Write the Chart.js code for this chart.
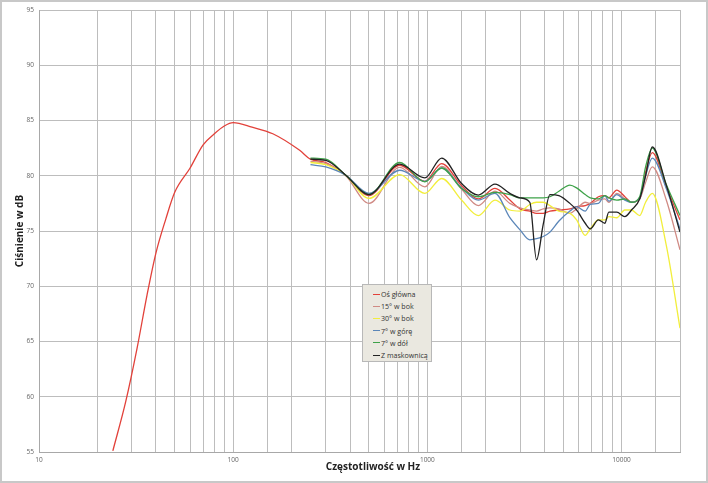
<!DOCTYPE html>
<html>
<head>
<meta charset="utf-8">
<script src="https://cdn.jsdelivr.net/npm/chart.js@4/dist/chart.umd.min.js"></script>
<style>
  body { margin: 0; background: #fff; }
  #wrap { position: relative; width: 708px; height: 483px; }
  #legend {
    position: absolute; left: 362px; top: 284px; width: 70px; height: 78px;
    box-sizing: border-box; background: #eae8e0; border: 1px solid #b8b8b8;
    font: 7.1px "Open Sans", sans-serif; color: #333; padding-top: 3px; overflow: hidden;
  }
  .item { height: 12.2px; display: flex; align-items: center; padding-left: 10px; white-space: nowrap; }
  .sw { width: 7px; height: 0; border-top: 1.5px solid; margin-right: 1px; }
</style>
</head>
<body>
<div id="wrap">
  <canvas id="chart" width="708" height="483"></canvas>
  <div id="legend"></div>
</div>
<script>
// low-frequency part (only the main axis was measured there)
const lowFreq = [24, 28, 32, 36, 40, 45, 50, 60, 70, 80, 90, 100, 125, 160, 220];
const lowMain = [55.1, 59.6, 64.4, 69.2, 73.0, 76.1, 78.5, 80.7, 82.8, 83.8, 84.5, 84.8, 84.4, 83.8, 82.3];

// common frequencies for all measurements (Hz)
const freq = [250, 300, 380, 500, 720, 970, 1185, 1500, 1830, 2230, 2660, 3000, 3370, 3650, 3950, 4280,
              4760, 5420, 5870, 6500, 6900, 7600, 8200, 8600, 9450, 10400, 11250, 12400, 13300, 14400, 17000, 20000];

const osGlowna  = [81.5, 81.2, 80.05, 78.2, 80.95, 79.5, 81.1, 79.1, 77.9, 78.85, 77.8, 77.0, 76.8, 76.6, 76.6, 76.8,
                   76.9, 77.0, 77.2, 77.3, 77.5, 78.1, 78.2, 78.0, 78.7, 78.1, 77.6, 77.9, 80.3, 82.1, 79.0, 76.0];
const bok15     = [81.3, 81.1, 80.0, 77.5, 80.75, 79.0, 80.85, 78.8, 77.3, 78.6, 77.5, 77.1, 76.9, 76.8, 77.0, 77.1,
                   77.0, 76.6, 77.0, 77.6, 77.5, 77.8, 77.9, 77.6, 78.4, 77.9, 77.6, 77.9, 79.4, 80.8, 77.8, 73.3];
const bok30     = [81.2, 81.0, 80.05, 77.95, 80.1, 78.4, 79.75, 77.8, 76.4, 77.8, 76.9, 76.8, 77.4, 77.6, 77.6, 77.3,
                   76.8, 76.6, 76.0, 74.6, 75.2, 76.0, 76.0, 76.3, 76.2, 76.9, 76.9, 76.4, 77.6, 78.4, 73.7, 66.2];
const gora7     = [81.0, 80.8, 80.05, 78.4, 80.5, 79.5, 80.7, 78.9, 77.8, 78.4, 76.2, 75.1, 74.2, 74.3, 74.5, 74.9,
                   75.9, 76.8, 77.2, 76.8, 77.4, 77.5, 78.2, 77.7, 78.3, 77.8, 77.6, 78.0, 80.0, 81.6, 78.85, 75.2];
const dol7      = [81.6, 81.5, 80.05, 78.3, 81.2, 79.45, 80.7, 78.85, 78.1, 78.5, 78.3, 78.0, 78.0, 78.0, 78.0, 78.1,
                   78.6, 79.15, 78.9, 78.3, 78.0, 77.9, 78.2, 78.0, 77.8, 77.9, 77.6, 78.1, 80.8, 82.5, 79.2, 76.4];
const maskownica = [81.5, 81.4, 80.05, 78.3, 81.05, 79.8, 81.6, 79.3, 78.25, 79.25, 78.4, 78.0, 77.6, 72.4, 75.6, 78.3,
                   78.2, 77.5, 76.9, 75.7, 75.2, 76.0, 75.7, 76.7, 76.7, 76.3, 76.9, 77.9, 80.0, 82.6, 79.15, 74.9];

const labels = ['Oś główna', '15° w bok', '30° w bok', '7° w górę', '7° w dół', 'Z maskownicą'];
const colors = ['#e2413a', '#d08a84', '#f2ee3c', '#5b86b8', '#3ea249', '#222222'];

const yTicks = [55, 60, 65, 70, 75, 80, 85, 90, 95];
const xLabels = [10, 100, 1000, 10000];
const xTitle = 'Częstotliwość w Hz';

function pts(xs, ys) {
  return xs.map((x, i) => ({ x: x, y: ys[i] }));
}

const series = [
  pts(lowFreq.concat(freq), lowMain.concat(osGlowna)),
  pts(freq, bok15),
  pts(freq, bok30),
  pts(freq, gora7),
  pts(freq, dol7),
  pts(freq, maskownica)
];

// outer frame + x axis title (the original has it a bit right of centre)
const extras = {
  id: 'extras',
  afterDraw(chart) {
    const c = chart.ctx;
    c.save();
    c.strokeStyle = '#c8c8c8';
    c.lineWidth = 2;
    c.strokeRect(1, 1, 706, 481);
    c.fillStyle = '#222';
    c.font = 'bold 10px "Open Sans"';
    c.textAlign = 'center';
    c.textBaseline = 'middle';
    c.fillText(xTitle, 373, 467);
    c.restore();
  }
};

const chart = new Chart(document.getElementById('chart'), {
  type: 'line',
  data: {
    datasets: series.map((d, i) => ({
      label: labels[i],
      data: d,
      borderColor: colors[i],
      borderWidth: 1.3,
      pointRadius: 0,
      cubicInterpolationMode: 'monotone',
      order: series.length - 1 - i
    }))
  },
  options: {
    responsive: false,
    animation: false,
    layout: { padding: { top: 10, right: 28, bottom: 6, left: 0 } },
    plugins: { legend: { display: false }, tooltip: { enabled: false } },
    scales: {
      x: {
        type: 'logarithmic',
        min: 10,
        max: 20000,
        grid: { color: '#bdbdbd', lineWidth: 1, tickLength: 0 },
        border: { color: '#a8a8a8' },
        ticks: {
          autoSkip: false, maxRotation: 0, padding: 4,
          font: { size: 6.5, family: 'Open Sans' }, color: '#666',
          callback: v => xLabels.includes(v) ? String(v) : ''
        },
        afterFit: s => { s.height = 25; }
      },
      y: {
        min: 55,
        max: 95,
        afterBuildTicks: s => { s.ticks = yTicks.map(v => ({ value: v })); },
        grid: { color: '#bdbdbd', lineWidth: 1, tickLength: 0 },
        border: { color: '#a8a8a8' },
        ticks: { padding: 5, font: { size: 6.5, family: 'Open Sans' }, color: '#666' },
        title: {
          display: true, text: 'Ciśnienie w dB', padding: { top: 14, bottom: 0 },
          font: { size: 10, weight: 'bold', family: 'Open Sans' }, color: '#222'
        },
        afterFit: s => { s.width = 39; }
      }
    }
  },
  plugins: [extras]
});

// legend box placed inside the plot, like in the original
const legendEl = document.getElementById('legend');
chart.data.datasets.forEach(ds => {
  const row = document.createElement('div');
  row.className = 'item';
  row.innerHTML = `<span class="sw" style="border-color:${ds.borderColor}"></span>${ds.label}`;
  legendEl.appendChild(row);
});
</script>
</body>
</html>
